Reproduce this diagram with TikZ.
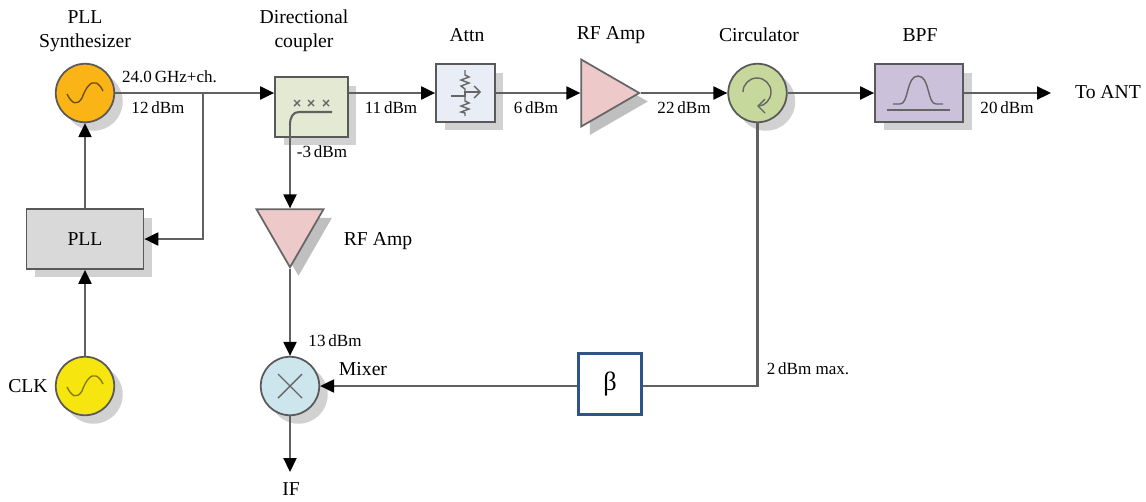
\documentclass[tikz,border=0pt]{standalone}
\usepackage{amsmath, amssymb}
\usepackage{fontspec}
\setmainfont{Liberation Serif}
\usepackage{tikz}
\usetikzlibrary{arrows.meta,shapes.geometric,shadows}

\tikzset{
  link/.style={draw=black!62,line width=1.2pt,-{Triangle[length=0.28cm,width=0.26cm,color=black]}},
  wire/.style={draw=black!62,line width=1.2pt},
  glyph/.style={draw=black!60,line width=0.8pt},
  heading/.style={font=\fontsize{11.2}{13.4}\selectfont,align=center,inner sep=0pt},
  lvl/.style={font=\fontsize{9.7}{11}\selectfont,inner sep=0pt},
  softshadow/.style={drop shadow={shadow xshift=0.17cm,shadow yshift=-0.17cm,fill=black!#1,opacity=1}},
  block/.style={draw=black!65,line width=1pt,inner sep=0pt,softshadow=18},
  disc/.style={circle,block,minimum size=1.17cm},
  amp/.style={isosceles triangle,isosceles triangle apex angle=60,isosceles triangle stretches,
    draw=black!60,line width=1pt,fill=ampred,inner sep=0pt,softshadow=25,
    minimum width=1.34cm,minimum height=1.16cm}
}
\definecolor{oscorange}{HTML}{FBB416}
\definecolor{oscyellow}{HTML}{F6E50F}
\definecolor{couplergreen}{HTML}{E4E9D3}
\definecolor{attnblue}{HTML}{E9EEF6}
\definecolor{ampred}{HTML}{EEC9C9}
\definecolor{circgreen}{HTML}{C6D89B}
\definecolor{bpfviolet}{HTML}{CBC1DB}
\definecolor{pllgray}{HTML}{D9D9D9}
\definecolor{mixerblue}{HTML}{CDE6ED}
\definecolor{betablue}{HTML}{2F5586}

\begin{document}
\begin{tikzpicture}[x=0.02cm,y=-0.02cm]
\useasboundingbox (0,0) rectangle (1146,501);
% blocks
\node[disc,fill=oscorange] (synth) at (85,93) {};
\node[block,fill=pllgray,minimum width=2.34cm,minimum height=1.2cm] (pll) at (85,239) {};
\node[disc,fill=oscyellow] (clk) at (85,386) {};
\node[block,fill=couplergreen,minimum width=1.46cm,minimum height=1.2cm] (coupler) at (311.5,107) {};
\node[block,fill=attnblue,minimum width=1.18cm,minimum height=1.16cm] (attn) at (465.5,93) {};
\node[amp,anchor=apex] (txamp) at (641,93) {};
\node[disc,fill=circgreen] (circ) at (757.5,93) {};
\node[block,fill=bpfviolet,minimum width=1.76cm,minimum height=1.16cm] (bpf) at (919,93) {};
\node[amp,shape border rotate=-90,anchor=apex] (rxamp) at (290,269) {};
\node[disc,fill=mixerblue] (mixer) at (290,386) {};
\node[draw=betablue,line width=1.5pt,fill=white,inner sep=0pt,minimum width=1.26cm,minimum height=1.22cm] (beta) at (610,384) {};
\coordinate (tee) at (203,93);
\coordinate (tap) at (290,125);
\coordinate (antout) at (1051,93);
\coordinate (ifout) at (290,472);
\coordinate (betain) at (beta.east |- mixer);
% connectors
\draw[link] (synth) -- (coupler.west |- synth);
\draw[link] (coupler.east |- synth) -- (attn);
\draw[link] (attn) -- (txamp.lower side);
\draw[link] (txamp.apex) -- (circ);
\draw[link] (circ) -- (bpf);
\draw[link] (bpf) -- (antout);
\draw[link] (clk) -- (pll);
\draw[link] (pll) -- (synth);
\draw[link] (tee) |- (pll);
\draw[link] (tap) -- (rxamp.lower side);
\draw[link] (rxamp.apex) -- (mixer);
\draw[link] (mixer) -- (ifout);
\draw[wire] (circ) |- (betain);
\draw[link] (beta.west |- mixer) -- (mixer);
% symbols
\foreach \osc/\col in {synth/oscorange!45!black,clk/oscyellow!55!black}
  \draw[glyph,draw=\col,shift={(\osc)}] (-18,1) .. controls (-13,11) and (-8,13) .. (-3,5)
    .. controls (1,-6) and (6,-12) .. (11,-10) .. controls (14,-9) and (16,-6) .. (18,-2);
\foreach \i in {297,311,326}
  \draw[glyph] (\i-3,100) -- (\i+3,106) (\i-3,106) -- (\i+3,100);
\draw[wire] (332,112) -- (299,112) .. controls (293,112) and (290,117) .. (tap);
\draw[glyph] (465,70) -- (465,75) -- (469,77) -- (461,80) -- (469,83) -- (461,86) -- (465,89) -- (465,101)
  -- (469,103) -- (461,106) -- (469,109) -- (461,112) -- (465,113) -- (465,116);
\draw[glyph,-{Straight Barb[length=0.12cm]}] (451,96) -- (465,96) -- (465,92) -- (481,92);
\draw[glyph,-{Straight Barb[length=0.14cm]}] (743,92) arc (180:450:14);
\draw[glyph] (887,110) -- (950,110);
\draw[glyph] (893,104) -- (900,104) .. controls (909,104) and (906,76) .. (918,76)
  .. controls (930,76) and (927,104) .. (936,104) -- (943,104);
\draw[glyph] (278,374) -- (302,398) (278,398) -- (302,374);
% labels
\node[heading] (synthlbl) at (85,31) {PLL\\Synthesizer};
\node[heading] (couplerlbl) at (304,31) {Directional\\coupler};
\node[heading] (attnlbl) at (467,35) {Attn};
\node[heading] (txamplbl) at (611,35) {RF Amp};
\node[heading] (circlbl) at (759,35) {Circulator};
\node[heading] (bpflbl) at (920,35) {BPF};
\node[heading] (antlbl) at (1108,92) {To ANT};
\node[heading] (plllbl) at (pll) {PLL};
\node[heading,anchor=east] (clklbl) at (48,386) {CLK};
\node[heading] (rxamplbl) at (378,241) {RF Amp};
\node[heading] (mixerlbl) at (363,369) {Mixer};
\node[heading] (iflbl) at (291,489) {IF};
\node[heading,font=\fontsize{15}{17}\selectfont] (betalbl) at (beta) {β};
\node[lvl] (ghzlbl) at (169.5,77) {24.0\,GHz+ch.};
\node[lvl] (synthdbm) at (158,108) {12\,dBm};
\node[lvl] (coupdbm) at (391,108) {11\,dBm};
\node[lvl] (tapdbm) at (322,152) {-3\,dBm};
\node[lvl] (attndbm) at (536,108) {6\,dBm};
\node[lvl] (ampdbm) at (684,108) {22\,dBm};
\node[lvl] (bpfdbm) at (1007,108) {20\,dBm};
\node[lvl] (mixdbm) at (335,341) {13\,dBm};
\node[lvl] (circdbm) at (808,369) {2\,dBm max.};
\end{tikzpicture}
\end{document}
